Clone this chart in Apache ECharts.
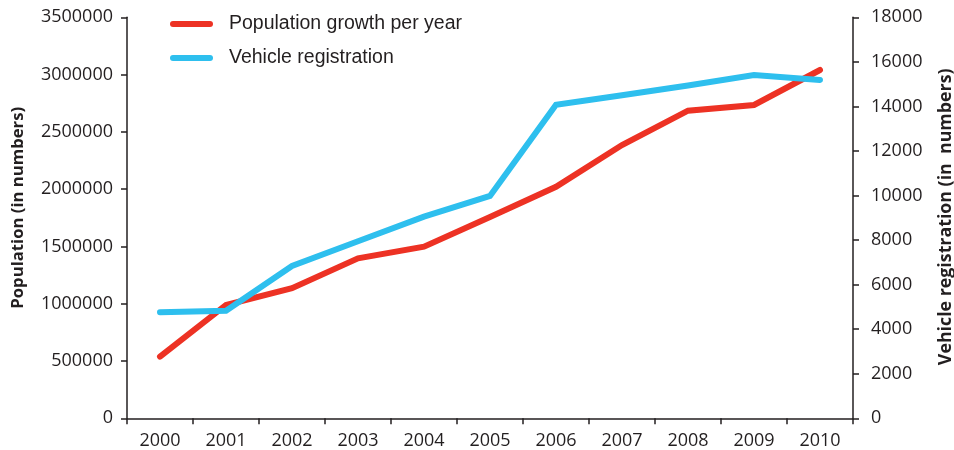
<!DOCTYPE html>
<html>
<head>
<meta charset="utf-8">
<script src="https://cdn.jsdelivr.net/npm/echarts@6/dist/echarts.min.js"></script>
<style>
  html, body { margin: 0; padding: 0; background: #fff; }
  #chart { width: 954px; height: 450px; }
</style>
</head>
<body>
<div id="chart"></div>
<script>
// Years on the category axis
const years = ['2000', '2001', '2002', '2003', '2004', '2005', '2006', '2007', '2008', '2009', '2010'];
// Population growth per year (left axis)
const population = [538000, 989000, 1135000, 1396000, 1498000, 1757000, 2021000, 2385000, 2685000, 2735000, 3040000];
// Vehicle registration (right axis)
const vehicles = [4760, 4830, 6840, 7950, 9050, 9980, 14070, 14500, 14940, 15410, 15190];

const seriesNames = ['Population growth per year', 'Vehicle registration'];
const leftAxisName = 'Population (in numbers)';
const rightAxisName = 'Vehicle registration (in  numbers)';

const ink = '#231f20';
const red = '#ed3224';
const blue = '#2ebfee';
const labelFont = '"Open Sans", "DejaVu Sans", sans-serif';

const chart = echarts.init(document.getElementById('chart'), null, { renderer: 'canvas' });

const axisLineStyle = { lineStyle: { color: ink, width: 1.5 } };
const axisTickStyle = { show: true, length: 6, lineStyle: { color: ink, width: 1.5 } };

chart.setOption({
  animation: false,
  backgroundColor: '#ffffff',
  grid: {
    left: 127, right: 101, top: 17.3, bottom: 31.7,
    containLabel: false,
    outerBoundsMode: 'none'
  },
  legend: {
    orient: 'vertical',
    left: 165,
    top: 9,
    itemWidth: 43,
    itemHeight: 6,
    itemGap: 14,
    icon: 'path://M3,0 L40,0 A3,3 0 0 1 40,6 L3,6 A3,3 0 0 1 3,0 Z',
    textStyle: {
      fontFamily: '"Liberation Sans", Arial, sans-serif',
      fontSize: 19.5,
      color: ink,
      lineHeight: 20,
      padding: [0, 0, 0, 11]
    },
    data: seriesNames
  },
  xAxis: {
    type: 'category',
    data: years,
    boundaryGap: true,
    axisLine: axisLineStyle,
    axisTick: { show: true, length: 6, alignWithLabel: false, lineStyle: { color: ink, width: 1.5 } },
    axisLabel: { color: ink, fontFamily: labelFont, fontSize: 18, margin: 14 },
    splitLine: { show: false }
  },
  yAxis: [
    {
      type: 'value',
      position: 'left',
      min: 0, max: 3500000, interval: 500000,
      name: leftAxisName,
      nameLocation: 'middle',
      nameRotate: 90,
      nameGap: 100,
      nameTextStyle: {
        fontFamily: labelFont, fontWeight: 'bold', fontSize: 16.7, color: ink,
        padding: [0, 0, 0, 20]
      },
      axisLine: { show: true, ...axisLineStyle },
      axisTick: axisTickStyle,
      axisLabel: { color: ink, fontFamily: labelFont, fontSize: 18, margin: 14, formatter: v => String(v) },
      splitLine: { show: false }
    },
    {
      type: 'value',
      position: 'right',
      min: 0, max: 18000, interval: 2000,
      name: rightAxisName,
      nameLocation: 'middle',
      nameRotate: 90,
      nameGap: 84,
      nameTextStyle: {
        fontFamily: labelFont, fontWeight: 'bold', fontSize: 17.8, color: ink,
        padding: [0, 0, 0, 2]
      },
      axisLine: { show: true, ...axisLineStyle },
      axisTick: axisTickStyle,
      axisLabel: { color: ink, fontFamily: labelFont, fontSize: 18, margin: 18, formatter: v => String(v) },
      splitLine: { show: false }
    }
  ],
  series: [
    {
      name: seriesNames[0],
      type: 'line',
      yAxisIndex: 0,
      data: population,
      symbol: 'none',
      itemStyle: { color: red },
      lineStyle: { color: red, width: 6, cap: 'round', join: 'miter' },
      z: 2
    },
    {
      name: seriesNames[1],
      type: 'line',
      yAxisIndex: 1,
      data: vehicles,
      symbol: 'none',
      itemStyle: { color: blue },
      lineStyle: { color: blue, width: 6, cap: 'round', join: 'miter' },
      z: 3
    }
  ]
});
</script>
</body>
</html>
